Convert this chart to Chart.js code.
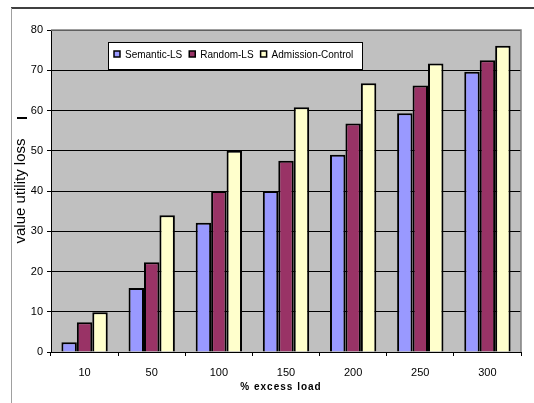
<!DOCTYPE html>
<html lang="en">
<head>
    <meta charset="UTF-8">
    <title>Value utility loss vs excess load</title>
    <script src="https://cdn.jsdelivr.net/npm/chart.js"></script>
    <style>
        html, body { margin: 0; padding: 0; background: #fff; }
        #wrap { width: 534px; height: 403px; position: relative; }
    </style>
</head>
<body>
<div id="wrap"><canvas id="lossChart"></canvas></div>

<script>
// data
const loadLabels = ["10", "50", "100", "150", "200", "250", "300"];
const semanticLS = [2.4, 15.9, 32.1, 40.0, 49.0, 59.3, 69.6];
const randomLS = [7.4, 22.3, 40.0, 47.5, 56.8, 66.2, 72.5];
const admissionControl = [9.9, 34.0, 50.0, 60.8, 66.8, 71.7, 76.1];
const yTicks = [0, 10, 20, 30, 40, 50, 60, 70, 80];

const FONT = "'Liberation Sans', Arial, sans-serif";

// grey plot background + frame around the figure
const backdrop = {
    id: "backdrop",
    beforeDraw(chart) {
        const { ctx, chartArea: a } = chart;
        ctx.save();
        ctx.fillStyle = "#c0c0c0";
        ctx.fillRect(a.left, a.top, a.right - a.left, a.bottom - a.top);
        // outer frame
        ctx.strokeStyle = "#000";
        ctx.lineWidth = 1.5;
        ctx.beginPath();
        ctx.moveTo(11, 8);
        ctx.lineTo(534, 8);
        ctx.stroke();
        ctx.strokeStyle = "#a0a0a0";
        ctx.lineWidth = 1;
        ctx.beginPath();
        ctx.moveTo(11.5, 8);
        ctx.lineTo(11.5, 403);
        ctx.stroke();
        // little dash left of the axis title
        ctx.strokeStyle = "#000";
        ctx.lineWidth = 2;
        ctx.beginPath();
        ctx.moveTo(17, 118);
        ctx.lineTo(27, 118);
        ctx.stroke();
        ctx.restore();
    },
    beforeDatasetsDraw(chart) {
        const { ctx, chartArea: a } = chart;
        ctx.save();
        ctx.strokeStyle = "#808080";
        ctx.lineWidth = 1.5;
        ctx.beginPath();
        ctx.moveTo(a.left, a.top);
        ctx.lineTo(a.right, a.top);
        ctx.lineTo(a.right, a.bottom);
        ctx.stroke();
        ctx.restore();
    }
};

// boxed legend inside the plot + spaced x title
const boxLegend = {
    id: "boxLegend",
    afterDraw(chart) {
        const { ctx } = chart;
        ctx.save();
        ctx.fillStyle = "#fff";
        ctx.strokeStyle = "#000";
        ctx.lineWidth = 1;
        ctx.fillRect(108, 42, 254, 27);
        ctx.strokeRect(108.5, 42.5, 254, 27);

        ctx.font = "10px " + FONT;
        ctx.textBaseline = "middle";
        let x = 114;
        chart.data.datasets.forEach(ds => {
            ctx.fillStyle = ds.backgroundColor;
            ctx.fillRect(x, 51, 6, 6);
            ctx.lineWidth = 1.5;
            ctx.strokeRect(x, 51, 6, 6);
            ctx.fillStyle = "#000";
            ctx.fillText(ds.label, x + 11, 55);
            x += 11 + ctx.measureText(ds.label).width + 7;
        });

        ctx.font = "bold 10px " + FONT;
        ctx.letterSpacing = "1px";
        ctx.textAlign = "center";
        ctx.fillStyle = "#000";
        ctx.fillText("% excess load", 281, 387);
        ctx.restore();
    }
};

const ctx = document.getElementById("lossChart").getContext("2d");
new Chart(ctx, {
    type: "bar",
    data: {
        labels: loadLabels,
        datasets: [
            { label: "Semantic-LS", data: semanticLS, backgroundColor: "#9999ff" },
            { label: "Random-LS", data: randomLS, backgroundColor: "#993366" },
            { label: "Admission-Control", data: admissionControl, backgroundColor: "#ffffcc" }
        ]
    },
    options: {
        responsive: true,
        maintainAspectRatio: false,
        animation: false,
        layout: { padding: { left: 0, top: 30, right: 13, bottom: 0 } },
        datasets: {
            bar: {
                borderColor: "#000",
                borderWidth: 2,
                categoryPercentage: 0.69,
                barPercentage: 1
            }
        },
        plugins: {
            legend: { display: false },
            tooltip: { enabled: false }
        },
        scales: {
            x: {
                afterFit(s) { s.height = 51; },
                grid: { drawOnChartArea: false, color: "#000", tickLength: 4, offset: true },
                border: { color: "#000", width: 1 },
                ticks: { color: "#000", padding: 10, font: { family: FONT, size: 11 } }
            },
            y: {
                min: 0,
                max: 80,
                afterFit(s) { s.width = 51; },
                afterBuildTicks(s) { s.ticks = yTicks.map(v => ({ value: v })); },
                grid: { color: "#000", tickLength: 4 },
                border: { color: "#000", width: 1 },
                ticks: { color: "#000", padding: 4, font: { family: FONT, size: 11 } },
                title: {
                    display: true,
                    text: "value utility loss",
                    color: "#000",
                    font: { family: FONT, size: 15 },
                    padding: { top: 12, bottom: 0 }
                }
            }
        }
    },
    plugins: [backdrop, boxLegend]
});
</script>
</body>
</html>
